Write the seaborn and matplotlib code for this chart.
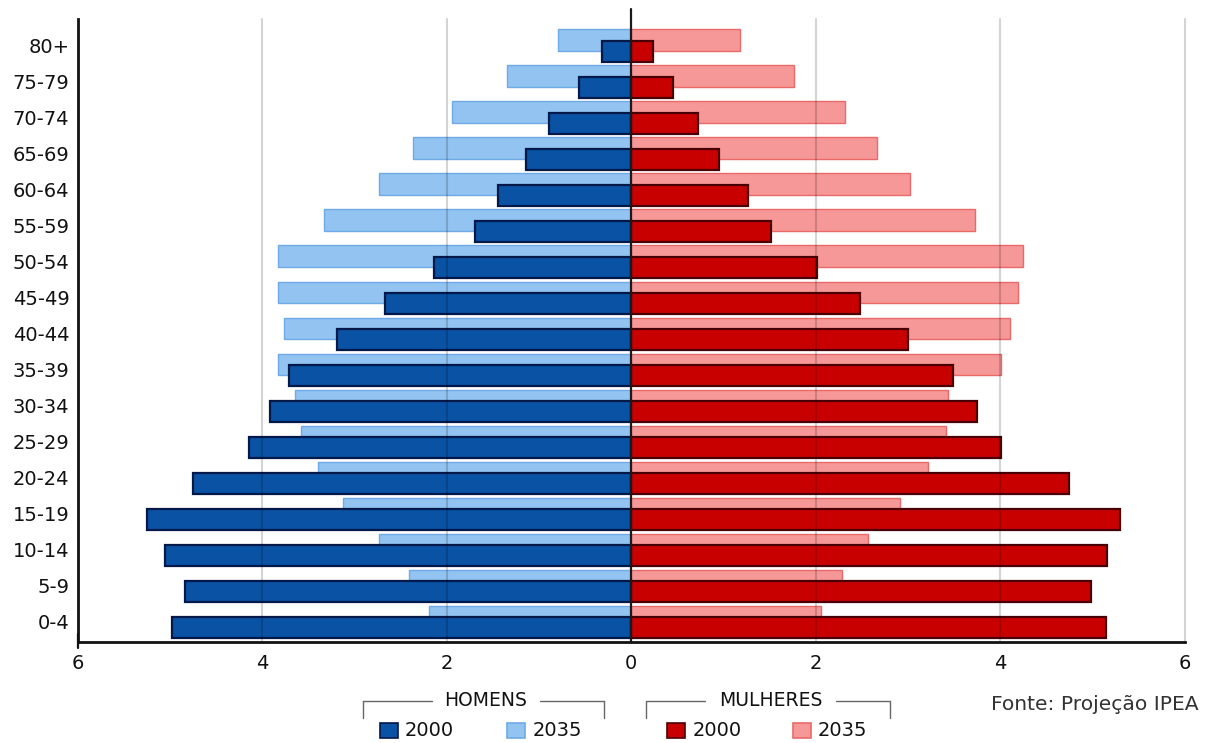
import numpy as np
import pandas as pd
import matplotlib
matplotlib.use("Agg")
import matplotlib.pyplot as plt
import seaborn as sns
from matplotlib.patches import Rectangle
from matplotlib.lines import Line2D
from matplotlib.ticker import FuncFormatter, FixedLocator

# ---------------- data ----------------
age_groups = ['80+', '75-79', '70-74', '65-69', '60-64', '55-59', '50-54', '45-49',
              '40-44', '35-39', '30-34', '25-29', '20-24', '15-19', '10-14', '5-9', '0-4']
homens_2000 = [0.32, 0.57, 0.89, 1.14, 1.44, 1.69, 2.14, 2.67, 3.19, 3.71, 3.92, 4.14,
               4.75, 5.25, 5.05, 4.84, 4.98]
homens_2035 = [0.80, 1.35, 1.94, 2.37, 2.74, 3.33, 3.83, 3.83, 3.76, 3.83, 3.65, 3.58,
               3.40, 3.13, 2.74, 2.41, 2.19]
mulheres_2000 = [0.23, 0.45, 0.72, 0.95, 1.26, 1.51, 2.01, 2.48, 3.00, 3.49, 3.75, 4.01,
                 4.74, 5.30, 5.16, 4.98, 5.14]
mulheres_2035 = [1.18, 1.76, 2.32, 2.66, 3.02, 3.72, 4.24, 4.19, 4.10, 4.01, 3.43, 3.41,
                 3.22, 2.91, 2.57, 2.28, 2.05]
x_ticks = [-6, -4, -2, 0, 2, 4, 6]
grid_x = [-4, -2, 2, 4, 6]
group_titles = ['HOMENS', 'MULHERES']
year_labels = ['2000', '2035']
source_text = 'Fonte: Projeção IPEA'

# ---------------- style ----------------
DARK_BLUE, DARK_BLUE_E = '#0a52a3', '#00184a'
LIGHT_BLUE, LIGHT_BLUE_E = '#93c3f1', '#6fa9e6'
DARK_RED, DARK_RED_E = '#c80000', '#4a0000'
LIGHT_RED, LIGHT_RED_E = '#f69898', '#ea6a6a'

sns.set_theme(style='white')
plt.rcParams['font.family'] = ['DejaVu Sans']
FS = 14

W_PX, H_PX = 1206, 743
fig = plt.figure(figsize=(W_PX / 100, H_PX / 100), dpi=100)

def fx(px):
    return px / W_PX

def fy(py):
    return 1 - py / H_PX

ax_l, ax_r, ax_t, ax_b = 77.7, 1185, 19.3, 641.7
ax = fig.add_axes([fx(ax_l), fy(ax_b), fx(ax_r) - fx(ax_l), fy(ax_t) - fy(ax_b)])

BAR_H = 0.59
SHIFT = 0.155

def draw(values, sign, color, edge, lw, shift, z):
    df = pd.DataFrame({'age': age_groups, 'val': [sign * v for v in values]})
    n0 = len(ax.patches)
    sns.barplot(data=df, x='val', y='age', order=age_groups, orient='h',
                color=color, saturation=1, width=BAR_H, errorbar=None,
                edgecolor=edge, linewidth=lw, zorder=z, ax=ax)
    for p in ax.patches[n0:]:
        p.set_y(p.get_y() + shift)

# 2035 bars (behind), then 2000 bars
draw(homens_2035, -1, LIGHT_BLUE, LIGHT_BLUE_E, 1.0, -SHIFT, 2)
draw(mulheres_2035, 1, LIGHT_RED, LIGHT_RED_E, 1.0, -SHIFT, 2)
draw(homens_2000, -1, DARK_BLUE, DARK_BLUE_E, 1.6, SHIFT, 3)
draw(mulheres_2000, 1, DARK_RED, DARK_RED_E, 1.6, SHIFT, 3)

n = len(age_groups)
ax.set_xlim(-6, 6)
ax.set_ylim(n - 1 + 0.55, -0.73)

for gx in grid_x:
    ax.axvline(gx, color='black', alpha=0.17, lw=1.5, zorder=4, clip_on=False)
ax.axvline(0, color='#1a1a1a', lw=1.6, ymin=0, ymax=1.017, zorder=5, clip_on=False)

ax.set_xlabel('')
ax.set_ylabel('')
ax.xaxis.set_major_locator(FixedLocator(x_ticks))
ax.xaxis.set_major_formatter(FuncFormatter(lambda v, p: f'{abs(int(round(v)))}'))
ax.tick_params(axis='x', length=0, pad=9, labelsize=FS, labelcolor='#111111')
ax.tick_params(axis='y', length=0, pad=6, labelsize=FS, labelcolor='#111111')
for s in ['top', 'right']:
    ax.spines[s].set_visible(False)
for s in ['left', 'bottom']:
    ax.spines[s].set_color('#111111')
    ax.spines[s].set_linewidth(2)
    ax.spines[s].set_zorder(6)
ax.grid(False)

# small corner tick at the lower-left
fig.add_artist(Line2D([fx(ax_l), fx(ax_l)], [fy(ax_b - 8), fy(ax_b + 6)], color='#111111', lw=1.6))

# ---------------- legend (figure pixels) ----------------
def bracket(x0, x1, gap0, gap1, y_line, y_end):
    for a, b in [(x0, gap0), (gap1, x1)]:
        fig.add_artist(Line2D([fx(a), fx(b)], [fy(y_line), fy(y_line)], color='#666666', lw=1.0))
    for xx in (x0, x1):
        fig.add_artist(Line2D([fx(xx), fx(xx)], [fy(y_line), fy(y_end)], color='#666666', lw=1.0))

def swatch(x0, color, edge, label, lx):
    fig.add_artist(Rectangle((fx(x0), fy(738)), fx(18), 15 / H_PX, facecolor=color,
                             edgecolor=edge, lw=1.2, transform=fig.transFigure))
    fig.text(fx(lx), fy(730.5), label, fontsize=FS, ha='left', va='center', color='#111111')

bracket(363, 604, 432, 540, 700.5, 718)
fig.text(fx(485.5), fy(700), group_titles[0], fontsize=FS - 0.5, ha='center', va='center', color='#111111')
swatch(380, DARK_BLUE, DARK_BLUE_E, year_labels[0], 405)
swatch(507, LIGHT_BLUE, LIGHT_BLUE_E, year_labels[1], 533)

bracket(646, 890, 705, 836, 700.5, 718)
fig.text(fx(770.5), fy(700), group_titles[1], fontsize=FS - 0.5, ha='center', va='center', color='#111111')
swatch(667, DARK_RED, DARK_RED_E, year_labels[0], 693)
swatch(793, LIGHT_RED, LIGHT_RED_E, year_labels[1], 818)

fig.text(fx(991), fy(705), source_text, fontsize=FS + 0.6, ha='left', va='center', color='#333333')

fig.savefig('out.png', dpi=100)
